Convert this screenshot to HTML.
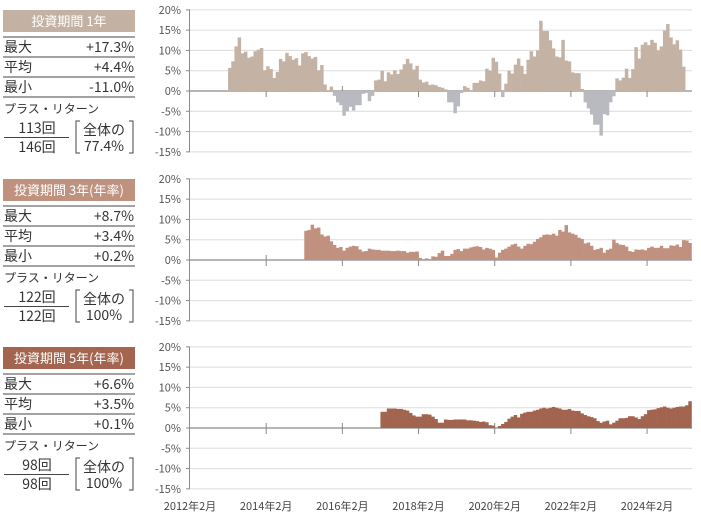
<!DOCTYPE html>
<html><head><meta charset="utf-8">
<style>
body{margin:0;background:#fff;width:701px;height:518px;overflow:hidden;font-family:"Noto Sans CJK JP","Liberation Sans",sans-serif;}
svg{position:absolute;left:0;top:0}
text{font-family:"Noto Sans CJK JP","Liberation Sans",sans-serif;}
</style></head><body>
<svg id="c" width="701" height="518"></svg>
<script>
const p1Values=[5.7,7.3,11,13.2,9.3,9.7,8.2,8.5,9.8,10.2,10.6,5.1,6.1,5.4,3.2,4.7,7.9,7.3,9.4,8.6,7.7,8.1,6.3,9.3,9.6,8.6,8.0,8.4,5.1,6.4,1.6,0.2,1.1,-1.2,-2.8,-3.5,-6.1,-5.0,-3.9,-4.8,-3.5,-3.5,-0.7,-0.5,-2.5,-1.2,2.6,2.8,5.0,2.4,4.6,4.1,5.1,4.2,5.3,6.6,7.9,6.8,5.3,6.2,
2.8,2.1,2.3,1.5,1.6,1.4,1.0,0.8,0.4,-2.8,-2.8,-5.5,-3.8,-0.5,1.2,0.8,-0.2,2.0,2.0,2.6,2.4,5.5,5.0,8.2,7.2,4.3,-1.5,1.8,5.0,4.3,6.5,8.0,6.2,4.2,7.7,9.8,8.5,10.0,17.3,14.8,14.8,12.5,10.5,8.5,8.3,12.6,7.5,7.3,4.6,4.4,4.4,0.5,-2.8,-4.3,-5.8,-8.3,-8.3,-11.0,-5.7,-6.0,-2.8,-1.3,3.1,2.6,3.3,5.5,3.2,5.4,10.8,8.0,11.4,12.0,11.3,12.6,11.9,10.0,11.0,14.9,16.5,13.2,11.5,12.5,10.2,6.0];
const p2Values=[7.2,7.4,8.7,7.8,8.0,6.3,5.8,6.0,4.6,3.7,3.0,3.2,
2.3,3.0,3.3,3.5,3.4,2.6,2.1,2.2,2.8,2.6,2.5,2.5,2.3,2.3,2.3,2.2,2.2,2.3,2.2,2.2,1.8,2.0,2.0,2.1,
0.5,0.2,0.4,0.2,0.9,0.8,1.7,2.3,1.0,1.0,1.5,2.5,2.7,2.2,2.8,2.8,3.1,3.3,3.4,3.2,2.6,3.0,2.8,2.5,
0.6,1.8,2.5,2.8,3.3,3.8,4.0,3.3,2.8,3.5,4.0,3.9,4.5,5.2,5.6,6.2,6.3,6.2,6.5,6.0,7.4,7.0,8.6,6.8,
6.5,6.2,5.5,5.2,4.1,4.3,3.5,2.5,2.7,3.0,1.8,2.5,2.8,5.0,4.2,3.8,3.7,3.3,2.2,2.0,2.6,2.5,2.6,2.4,
3.0,3.3,3.0,3.0,3.5,2.9,2.9,3.6,3.5,3.8,3.2,4.9,4.8,4.2];
const p3Values=[4.0,4.0,4.8,4.8,4.8,4.7,4.7,4.5,4.3,3.7,3.1,2.8,
2.8,3.4,3.4,3.3,2.8,2.2,1.3,1.3,2.1,2.0,2.0,2.1,2.1,2.1,2.1,1.9,1.9,1.8,1.7,1.5,1.6,1.4,0.7,0.6,
0.1,0.5,1.0,1.5,2.3,2.8,3.2,2.6,3.5,3.8,4.0,4.0,4.3,4.5,4.8,5.0,4.8,5.0,5.2,5.0,4.8,4.5,4.5,4.7,
4.3,4.2,4.2,3.6,3.2,2.9,2.7,2.4,1.7,1.3,1.6,1.8,0.9,1.3,1.8,2.4,2.4,2.5,2.9,2.9,2.6,2.2,2.9,3.4,
4.4,4.5,4.6,4.9,5.1,5.3,5.0,4.8,5.0,5.2,5.3,5.3,5.6,6.6];
const yTicks=[20,15,10,5,0,-5,-10,-15];
const xLabels=["2012年2月","2014年2月","2016年2月","2018年2月","2020年2月","2022年2月","2024年2月"];
const panelTitles=["投資期間 1年","投資期間 3年(年率)","投資期間 5年(年率)"];
const panelStats=[["+17.3%","+4.4%","-11.0%"],["+8.7%","+3.4%","+0.2%"],["+6.6%","+3.5%","+0.1%"]];
const panelCounts=[["113回","146回","77.4%"],["122回","122回","100%"],["98回","98回","100%"]];
const startMonths=[12,36,60];

const NS="http://www.w3.org/2000/svg";
const svg=document.getElementById('c');
function mk(tag,attrs,parent){const e=document.createElementNS(NS,tag);for(const k in attrs)e.setAttribute(k,attrs[k]);(parent||svg).appendChild(e);return e;}
const X0=190,MW=3.174,X1=692;
const xs=m=>X0+m*MW;
const offs=[0,169,337];
const hdrCol=["#c3b2a4","#bf917f","#a3654f"];
const posCol=["#c4b3a5","#c1917f","#a3644f"];
const negCol="#b9babf";
const series=[p1Values,p2Values,p3Values];
const labels=["最大","平均","最小"];
offs.forEach((o,pi)=>{
  const ys=v=>o+91-v*4.057;
  const g=mk('g',{});
  
  
  yTicks.forEach(t=>{
    const y=ys(t);
    const l=mk('line',{x1:X0,x2:X1,y1:y,y2:y,stroke:t===0?'#8a8a8a':'#dcdcdc','stroke-width':t===0?1.2:1},g);
    
    
    mk('line',{x1:186,x2:190,y1:y,y2:y,stroke:'#8a8a8a'},g);
    const tx=mk('text',{x:181,y:y+4,'text-anchor':'end','font-size':11,fill:'#555'},g);
    tx.textContent=t+'%';
    
    
  });
  mk('line',{x1:189.5,x2:189.5,y1:ys(20),y2:ys(-15),stroke:'#8a8a8a'},g);
  for(let k=1;k<7;k++){mk('line',{x1:xs(k*24),x2:xs(k*24),y1:ys(0)-5,y2:ys(0)+6,stroke:'#8a8a8a'},g);}
  series[pi].forEach((v,i)=>{
    const x=xs(startMonths[pi]+i);
    const y0=ys(0),y1=ys(v);
    const r=mk('rect',{x:x,y:Math.min(y0,y1),width:MW+0.3,height:Math.abs(y1-y0),fill:v>=0?posCol[pi]:negCol},g);
    
    
  });
  const h=mk('rect',{x:3,y:o+10,width:132,height:22,fill:hdrCol[pi]},g);
  
  
  const ht=mk('text',{x:69,y:o+26,'text-anchor':'middle','font-size':13,fill:'#fff'},g);
  ht.textContent=panelTitles[pi];
  
  
  [37,57,77,97].forEach(yy=>mk('line',{x1:3,x2:135,y1:o+yy,y2:o+yy,stroke:'#444','stroke-width':1},g));
  labels.forEach((lb,j)=>{
    const a=mk('text',{x:4,y:o+52+j*20,'font-size':14,fill:'#333'},g);a.textContent=lb;
    
    
    const b=mk('text',{x:134,y:o+52+j*20,'text-anchor':'end','font-size':14,fill:'#333'},g);b.textContent=panelStats[pi][j];
    
    
  });
  const pt=mk('text',{x:4,y:o+113,'font-size':12,fill:'#333'},g);pt.textContent='プラス・リターン';
  
  
  const n1=mk('text',{x:37,y:o+133,'text-anchor':'middle','font-size':14,fill:'#333'},g);n1.textContent=panelCounts[pi][0];
  
  
  mk('line',{x1:4,x2:69,y1:o+137.5,y2:o+137.5,stroke:'#444'},g);
  const n2=mk('text',{x:37,y:o+152,'text-anchor':'middle','font-size':14,fill:'#333'},g);n2.textContent=panelCounts[pi][1];
  
  
  mk('path',{d:`M80 ${o+121} H76 V${o+153} H80 M129 ${o+121} H133 V${o+153} H129`,fill:'none',stroke:'#444'},g);
  const r1=mk('text',{x:104,y:o+135,'text-anchor':'middle','font-size':14,fill:'#333'},g);r1.textContent='全体の';
  const r2=mk('text',{x:104,y:o+151,'text-anchor':'middle','font-size':14,fill:'#333'},g);r2.textContent=panelCounts[pi][2];
  
  
});
xLabels.forEach((t,k)=>{
  const tx=mk('text',{x:xs(k*24),y:510,'text-anchor':'middle','font-size':11,fill:'#444'});
  tx.textContent=t;
  
  
});
</script>
</body></html>
